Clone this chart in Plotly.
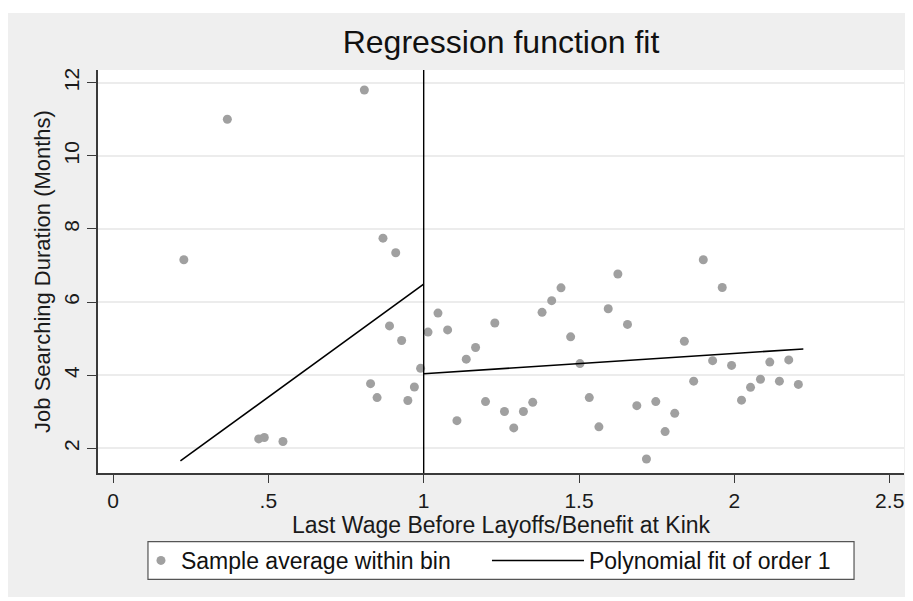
import plotly.graph_objects as go

# Binned sample averages (x: wage / benefit at kink, y: months)
bin_x = [0.228, 0.368, 0.469, 0.487, 0.547, 0.809, 0.829, 0.850, 0.869, 0.890,
         0.910, 0.929, 0.949, 0.970, 0.990,
         1.014, 1.046, 1.077, 1.107, 1.137, 1.167, 1.199, 1.229, 1.260, 1.290,
         1.321, 1.351, 1.381, 1.412, 1.442, 1.473, 1.503, 1.533, 1.564, 1.594,
         1.625, 1.656, 1.686, 1.717, 1.747, 1.777, 1.808, 1.839, 1.869, 1.900,
         1.930, 1.961, 1.991, 2.023, 2.052, 2.084, 2.114, 2.145, 2.175, 2.206]
bin_y = [7.16, 11.00, 2.26, 2.30, 2.19, 11.80, 3.77, 3.39, 7.75, 5.35,
         7.35, 4.95, 3.31, 3.68, 4.19,
         5.18, 5.70, 5.24, 2.76, 4.44, 4.76, 3.28, 5.43, 3.01, 2.56,
         3.01, 3.26, 5.72, 6.04, 6.39, 5.05, 4.32, 3.39, 2.59, 5.82,
         6.77, 5.39, 3.17, 1.71, 3.28, 2.46, 2.96, 4.93, 3.84, 7.16,
         4.40, 6.40, 4.27, 3.32, 3.67, 3.89, 4.36, 3.84, 4.42, 3.75]

# Linear fits on each side of the kink
fit_left_x = [0.217, 1.0]
fit_left_y = [1.66, 6.49]
fit_right_x = [1.0, 2.222]
fit_right_y = [4.04, 4.72]

kink = 1.0
x_ticks = [0, 0.5, 1, 1.5, 2, 2.5]
x_ticklabels = ["0", ".5", "1", "1.5", "2", "2.5"]
y_ticks = [2, 4, 6, 8, 10, 12]

FONT = "Arial, Liberation Sans, sans-serif"
AX = "#3a3a3a"
TXT = "#1a1a1a"

fig = go.Figure()
fig.add_trace(go.Scatter(
    x=bin_x, y=bin_y, mode="markers", name="Sample average within bin",
    marker=dict(color="#a0a0a0", size=9, line=dict(width=0)),
    legend="legend",
))
fig.add_trace(go.Scatter(
    x=fit_left_x, y=fit_left_y, mode="lines", name="Polynomial fit of order 1",
    line=dict(color="black", width=1.6), legend="legend2",
))
fig.add_trace(go.Scatter(
    x=fit_right_x, y=fit_right_y, mode="lines", showlegend=False,
    line=dict(color="black", width=1.6),
))

fig.add_vline(x=kink, line=dict(color="black", width=1.4))

# white margins of the outer frame (top / bottom)
fig.add_shape(type="rect", xref="paper", yref="paper", x0=-0.2, x1=1.1, y0=1.1414, y1=1.3,
              fillcolor="white", line=dict(width=0), layer="above")
fig.add_shape(type="rect", xref="paper", yref="paper", x0=-0.2, x1=1.1, y0=-0.45, y1=-0.3077,
              fillcolor="white", line=dict(width=0), layer="above")
# legend frame
fig.add_shape(type="rect", xref="paper", yref="paper", x0=0.0620, x1=0.9380, y0=-0.2638, y1=-0.1705,
              fillcolor="white", line=dict(width=1.2, color="#555"), layer="below")

fig.update_layout(
    width=905, height=593,
    margin=dict(l=90, r=9, t=62, b=128),
    paper_bgcolor="#efefef", plot_bgcolor="white",
    font=dict(family=FONT, color=TXT),
    title=dict(text="Regression function fit", x=0.5, xref="paper", xanchor="center",
               y=1 - 34 / 593, yref="container", yanchor="middle",
               font=dict(size=32, family=FONT, color="#111")),
    showlegend=True,
    legend=dict(orientation="h", x=0.0533, xanchor="left", y=-0.2171, yanchor="middle",
                bgcolor="rgba(0,0,0,0)", borderwidth=0,
                font=dict(size=23, family=FONT, color="#111"), itemwidth=30),
    legend2=dict(orientation="h", x=0.4826, xanchor="left", y=-0.2171, yanchor="middle",
                 bgcolor="rgba(0,0,0,0)", borderwidth=0,
                 font=dict(size=23, family=FONT, color="#111"), itemwidth=92),
)
fig.update_xaxes(
    range=[-0.0483, 2.546], tickvals=x_ticks, ticktext=x_ticklabels,
    showgrid=False, zeroline=False, showline=True, linecolor=AX, linewidth=1.5,
    ticks="outside", ticklen=8, tickwidth=1.3, tickcolor=AX,
    tickfont=dict(size=21, family=FONT, color=TXT),
    title=dict(text="Last Wage Before Layoffs/Benefit at Kink", standoff=2,
               font=dict(size=23, family=FONT, color=TXT)),
)
fig.update_yaxes(
    range=[1.328, 12.347], tickvals=y_ticks, tickangle=-90,
    showgrid=True, gridcolor="#ececec", gridwidth=1.5, zeroline=False,
    showline=True, linecolor=AX, linewidth=1.5,
    ticks="outside", ticklen=9, tickwidth=1.3, tickcolor=AX,
    tickfont=dict(size=21, family=FONT, color=TXT),
    title=dict(text="Job Searching Duration (Months)", standoff=3,
               font=dict(size=22, family=FONT, color=TXT)),
)

fig.write_html("out.html")
